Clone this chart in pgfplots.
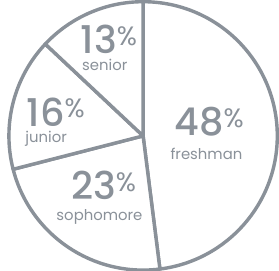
\documentclass[border=0pt]{standalone}
\usepackage{fontspec}
\setmainfont{Poppins}
\newfontfamily\numfont{Poppins}[UprightFont=* Medium]
\usepackage{pgfplots}
\usepackage{pgfplotstable}
\pgfplotsset{compat=1.18}
\definecolor{piegray}{HTML}{8A9199}
\pgfplotstableread{
label value x y lx ly
freshman 48 207 126 204.5 104
sophomore 23 108 66 104 47
junior 16 63 135 54 120
senior 13 113 203 109 187
}\piedata
\begin{document}
\begin{tikzpicture}
\pgfplotstablegetrowsof{\piedata}
\pgfmathtruncatemacro\nrows{\pgfplotsretval-1}
\gdef\cum{0}
\foreach \i in {0,...,\nrows}{
  \pgfplotstablegetelem{\i}{value}\of\piedata
  \let\v\pgfplotsretval
  \pgfmathsetmacro\s{90-3.6*\cum}
  \pgfmathsetmacro\e{90-3.6*(\cum+\v)}
  \pgfmathsetmacro\c{\cum+\v}
  \expandafter\xdef\csname sa\i\endcsname{\s}
  \expandafter\xdef\csname ea\i\endcsname{\e}
  \expandafter\xdef\csname val\i\endcsname{\v}
  \pgfplotstablegetelem{\i}{label}\of\piedata
  \expandafter\xdef\csname lab\i\endcsname{\pgfplotsretval}
  \pgfplotstablegetelem{\i}{x}\of\piedata
  \expandafter\xdef\csname px\i\endcsname{\pgfplotsretval}
  \pgfplotstablegetelem{\i}{y}\of\piedata
  \expandafter\xdef\csname py\i\endcsname{\pgfplotsretval}
  \pgfplotstablegetelem{\i}{lx}\of\piedata
  \expandafter\xdef\csname plx\i\endcsname{\pgfplotsretval}
  \pgfplotstablegetelem{\i}{ly}\of\piedata
  \expandafter\xdef\csname ply\i\endcsname{\pgfplotsretval}
  \xdef\cum{\c}
}
\begin{axis}[
  x=1bp, y=1bp,
  xmin=0, xmax=279, ymin=0, ymax=263,
  hide axis, clip=true,
]
\pgfplotsinvokeforeach{0,...,3}{
  \draw[piegray, line width=3.2bp, line join=round, fill=white]
    (axis cs:145,126) -- ++(\csname sa#1\endcsname:126bp)
    arc[start angle=\csname sa#1\endcsname, end angle=\csname ea#1\endcsname, radius=126bp] -- cycle;
  \node[anchor=base, text=piegray, inner sep=0pt] at (axis cs:\csname px#1\endcsname,\csname py#1\endcsname)
    {{\numfont\fontsize{36}{36}\selectfont\csname val#1\endcsname}\raisebox{8bp}{\fontsize{25}{25}\selectfont\%}};
  \node[anchor=base, text=piegray, inner sep=0pt] at (axis cs:\csname plx#1\endcsname,\csname ply#1\endcsname)
    {\fontsize{14}{14}\selectfont\csname lab#1\endcsname};
}
\end{axis}
\end{tikzpicture}
\end{document}
